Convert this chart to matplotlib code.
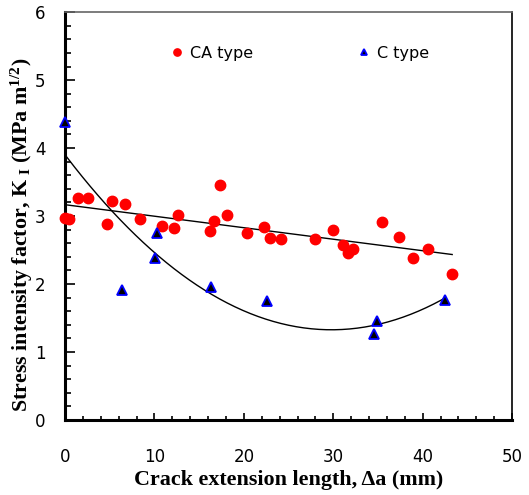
import numpy as np
import matplotlib.pyplot as plt
from matplotlib.ticker import MultipleLocator

# CA type (red circles)
ca_x = [0.0, 0.45, 1.5, 2.6, 4.7, 5.3, 6.7, 8.4, 10.8, 12.2, 12.6, 16.2, 16.7, 17.3, 18.1,
        20.3, 22.3, 22.9, 24.1, 28.0, 30.0, 31.1, 32.2, 31.7, 35.5, 37.4, 38.9, 40.6, 43.3]
ca_y = [2.97, 2.95, 3.26, 3.26, 2.89, 3.22, 3.18, 2.96, 2.85, 2.83, 3.02, 2.78, 2.93, 3.45, 3.02,
        2.75, 2.84, 2.68, 2.66, 2.67, 2.79, 2.58, 2.52, 2.46, 2.92, 2.69, 2.38, 2.51, 2.15]

# C type (blue triangles)
c_x = [0.0, 6.4, 10.1, 10.3, 16.3, 22.6, 34.6, 34.9, 42.5]
c_y = [4.38, 1.91, 2.39, 2.75, 1.96, 1.75, 1.26, 1.46, 1.76]

plt.rcParams['mathtext.default'] = 'regular'

fig = plt.figure(figsize=(5.29, 4.95), dpi=100)
ax = fig.add_axes([0.123, 0.1515, 0.845, 0.824])

# trend lines fitted to the points
p1 = np.polyfit(ca_x, ca_y, 1)
xx1 = np.linspace(min(ca_x), max(ca_x), 100)
ax.plot(xx1, np.polyval(p1, xx1), color='black', lw=1.0, zorder=2)

p2 = np.polyfit(c_x, c_y, 2)
xx2 = np.linspace(min(c_x), max(c_x), 200)
ax.plot(xx2, np.polyval(p2, xx2), color='black', lw=1.0, zorder=2)

ax.plot(ca_x, ca_y, 'o', color='red', ms=7.5, mec='red', label='CA type', zorder=3, clip_on=False)
ax.plot(c_x, c_y, '^', color='black', mec='blue', mew=1.3, ms=7, label='C type', zorder=3, clip_on=False)

ax.set_xlim(0, 50)
ax.set_ylim(0, 6)
ax.xaxis.set_major_locator(MultipleLocator(10))
ax.xaxis.set_minor_locator(MultipleLocator(2))
ax.yaxis.set_major_locator(MultipleLocator(1))
ax.yaxis.set_minor_locator(MultipleLocator(0.2))

ax.tick_params(which='both', direction='in', labelsize=12, width=1.2)
ax.tick_params(axis='x', which='major', length=5, pad=20)
ax.tick_params(axis='x', which='minor', length=3)
ax.tick_params(axis='y', which='major', length=7, pad=14)
ax.tick_params(axis='y', which='minor', length=4)

ax.spines['left'].set_linewidth(2.2)
ax.spines['bottom'].set_linewidth(2.2)
ax.spines['right'].set_linewidth(1.2)
ax.spines['top'].set_linewidth(1.2)
ax.spines['top'].set_color('#666666')

lab = dict(family='Liberation Serif', weight='bold', size=15.8)
ax.set_xlabel('Crack extension length, \u0394a (mm)', labelpad=3, **lab)
ax.set_ylabel('Stress intensity factor, K$_{\\ I}$ (MPa m$^{1/2}$)', **lab)
ax.yaxis.set_label_coords(-0.067, 0.453)

ax.legend(loc='upper left', bbox_to_anchor=(0.207, 0.953), ncol=2, frameon=False,
          fontsize=11.5, markerscale=0.7, handlelength=0.6, handletextpad=0.5,
          columnspacing=6.7)

fig.savefig('out.png', dpi=100)
